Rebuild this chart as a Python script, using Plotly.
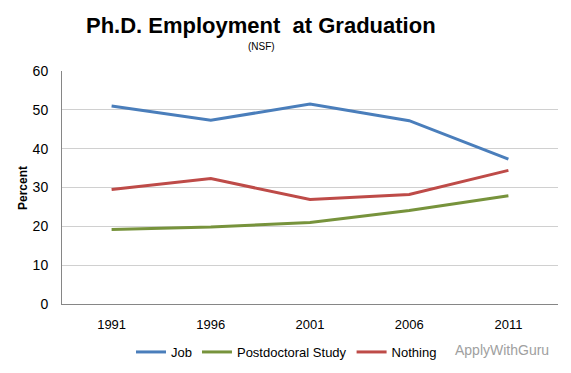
import plotly.graph_objects as go

years = ["1991", "1996", "2001", "2006", "2011"]
job = [51.0, 47.3, 51.5, 47.2, 37.3]
postdoc = [19.2, 19.8, 21.0, 24.1, 27.9]
nothing = [29.5, 32.3, 26.9, 28.2, 34.4]

W, H = 571, 373
L, R, T, B = 62, 13, 71, 69
plot_w = W - L - R
plot_h = H - T - B


def px_x(x):
    return (x - L) / plot_w


def px_y(y):
    return (H - B - y) / plot_h


fig = go.Figure()
fig.add_trace(go.Scatter(x=years, y=job, mode="lines", name="Job",
                         line=dict(color="#4A7EBB", width=3)))
fig.add_trace(go.Scatter(x=years, y=postdoc, mode="lines", name="Postdoctoral Study",
                         line=dict(color="#77933C", width=3)))
fig.add_trace(go.Scatter(x=years, y=nothing, mode="lines", name="Nothing",
                         line=dict(color="#BE4B48", width=3)))

fig.update_layout(
    width=W, height=H,
    margin=dict(l=L, r=R, t=T, b=B, autoexpand=False),
    paper_bgcolor="white", plot_bgcolor="white",
    font=dict(family="Liberation Sans, Arial", size=13, color="#000"),
    showlegend=True,
    legend=dict(orientation="h", x=px_x(131), xanchor="left", y=px_y(352), yanchor="middle",
                font=dict(size=13), itemwidth=30, traceorder="normal",
                bgcolor="rgba(0,0,0,0)"),
    annotations=[
        dict(text="<b>Ph.D. Employment  at Graduation</b>", x=px_x(261), xref="paper",
             y=px_y(25), yref="paper", yanchor="middle", showarrow=False,
             font=dict(size=22, family="Liberation Sans, Arial")),
        dict(text="(NSF)", x=px_x(261), xref="paper", y=px_y(47), yref="paper",
             yanchor="middle", showarrow=False, font=dict(size=10)),
        dict(text="<b>Percent</b>", x=px_x(23), xref="paper", y=px_y(188), yref="paper",
             xanchor="center", yanchor="middle", textangle=-90, showarrow=False,
             font=dict(size=12)),
        dict(text="ApplyWithGuru", x=px_x(502), xref="paper", xanchor="center",
             y=px_y(350), yref="paper", yanchor="middle", showarrow=False,
             font=dict(size=14, color="#A0A0A0")),
    ],
)

fig.update_xaxes(type="category", range=[-0.5, 4.5], showgrid=False, automargin=False,
                 showline=True, linecolor="#868686", linewidth=1,
                 ticks="", tickfont=dict(size=13), ticklabelstandoff=8)
fig.update_yaxes(range=[0, 60], dtick=10, showgrid=True, gridcolor="#D0D0D0", automargin=False,
                 gridwidth=1, showline=True, linecolor="#868686", linewidth=1,
                 zeroline=False, ticks="", tickfont=dict(size=14), ticklabelstandoff=10)

fig.write_html("out.html", config={"displayModeBar": False},
               post_script="document.body.style.margin='0';")
